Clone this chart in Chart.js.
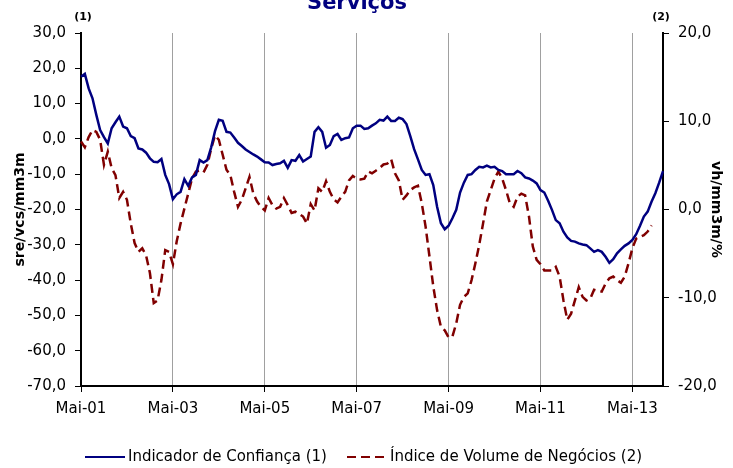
<!DOCTYPE html>
<html>
<head>
<meta charset="utf-8">
<script src="https://cdn.jsdelivr.net/npm/chart.js@4.4.1/dist/chart.umd.min.js"></script>
<style>
  html, body { margin: 0; padding: 0; background: #fff; }
  #wrap { width: 733px; height: 468px; }
</style>
</head>
<body>
<div id="wrap"><canvas id="chart" width="733" height="468"></canvas></div>
<script>
// monthly series, Mai-01 onwards
const monthNames = ["Jan", "Fev", "Mar", "Abr", "Mai", "Jun", "Jul", "Ago", "Set", "Out", "Nov", "Dez"];
const startYear = 2001;
const startMonth = 4; // Mai
const monthCount = 153;

// Indicador de Confiança (1) - left axis
const indicadorConfianca = [
    17.6, 18.4, 14.3, 11.5, 6.8, 2.5, 0.5, -1.3, 3.0, 4.7,
    6.3, 3.5, 3.0, 0.8, 0.2, -2.7, -3.0, -3.9, -5.5, -6.5,
    -6.6, -5.7, -10.2, -12.8, -17.1, -15.7, -15.0, -11.4, -13.3, -10.9,
    -10.2, -6.0, -6.7, -6.0, -2.4, 2.2, 5.4, 5.1, 2.0, 1.8,
    0.4, -1.1, -2.0, -3.0, -3.7, -4.4, -5.0, -5.8, -6.6, -6.7,
    -7.4, -7.1, -6.9, -6.2, -8.2, -6.0, -6.2, -4.6, -6.4, -5.7,
    -5.0, 2.0, 3.3, 2.0, -2.5, -1.7, 0.8, 1.4, -0.3, 0.2,
    0.4, 3.0, 3.75, 3.75, 2.8, 3.0, 3.75, 4.4, 5.4, 5.2,
    6.3, 5.1, 5.1, 6.0, 5.6, 4.2, 0.8, -2.9, -5.8, -8.8,
    -10.2, -10.0, -13.1, -19.2, -23.9, -25.6, -24.6, -22.5, -20.1, -15.2,
    -12.4, -10.2, -10.0, -8.8, -7.9, -8.1, -7.6, -8.1, -7.9, -8.8,
    -9.1, -10.0, -10.0, -10.0, -9.1, -9.7, -10.9, -11.2, -11.8, -12.6,
    -14.5, -15.2, -17.5, -20.1, -23.0, -23.9, -26.3, -27.9, -28.9, -29.1,
    -29.6, -29.9, -30.1, -31.0, -32.0, -31.5, -32.0, -33.4, -35.1, -34.1,
    -32.4, -31.3, -30.3, -29.6, -28.6, -27.0, -24.6, -22.0, -20.6, -17.8,
    -15.4, -12.4, -9.1
];

// Índice de Volume de Negócios (2) - right axis
const indiceVolumeNegocios = [
    7.7, 7.05, 8.2, 9.0, 8.8, 7.9, 5.05, 6.55, 4.7, 3.9,
    1.3, 2.0, 1.1, -1.6, -3.8, -4.8, -4.4, -5.2, -7.2, -10.6,
    -10.3, -8.0, -4.6, -4.8, -6.2, -3.6, -1.6, 0.1, 1.8, 3.5,
    4.3, 4.4, 4.2, 5.05, 6.9, 8.4, 7.9, 6.2, 4.5, 3.9,
    2.0, 0.3, 1.1, 2.4, 3.7, 1.8, 0.9, 0.3, -0.1, 1.3,
    0.5, 0.1, 0.3, 1.3, 0.5, -0.4, -0.25, -0.5, -0.8, -1.6,
    0.6, -0.1, 2.4, 2.0, 3.2, 2.0, 1.15, 0.8, 1.45, 2.0,
    3.3, 3.8, 3.5, 3.4, 3.5, 4.3, 4.1, 4.4, 4.7, 5.1,
    5.2, 5.7, 4.1, 3.3, 1.1, 1.6, 2.2, 2.5, 2.7, 0.7,
    -1.95, -5.3, -8.7, -11.4, -13.3, -13.7, -14.5, -14.4, -12.9, -10.8,
    -9.9, -9.5, -8.0, -6.1, -4.0, -1.6, 0.9, 2.2, 3.5, 4.3,
    3.5, 2.2, 0.7, 0.3, 1.45, 1.8, 1.6, -0.8, -4.2, -5.7,
    -6.2, -6.9, -6.9, -6.9, -6.5, -7.6, -10.3, -12.5, -11.8, -10.3,
    -8.8, -9.9, -10.3, -10.1, -9.1, -9.2, -9.3, -8.4, -7.8, -7.6,
    -8.0, -8.3, -7.6, -6.1, -4.4, -3.3, -3.1, -2.9, -2.5, -1.8
];

const labelEvery = 24;

const labels = [];
for (let i = 0; i < monthCount; i++) {
    const m = (startMonth + i) % 12;
    const y = startYear + Math.floor((startMonth + i) / 12);
    labels.push(monthNames[m] + "-" + String(y).slice(2));
}

const fontFamily = "'DejaVu Sans', Verdana, sans-serif";
const fmt = (v) => v.toFixed(1).replace(".", ",");

// title, (1)/(2) marks and legend drawn on top
const extras = {
    id: "extras",
    afterDraw(chart) {
        const ctx = chart.ctx;
        ctx.save();
        ctx.fillStyle = "#000080";
        ctx.font = "bold 21px " + fontFamily;
        ctx.textAlign = "center";
        ctx.textBaseline = "alphabetic";
        ctx.fillText("Serviços", 357, 9);

        ctx.fillStyle = "#000";
        ctx.font = "bold 11px " + fontFamily;
        ctx.textBaseline = "middle";
        ctx.fillText("(1)", 83, 17);
        ctx.fillText("(2)", 661, 17);

        // legend
        const items = [
            { x: 85, ds: chart.data.datasets[0] },
            { x: 347, ds: chart.data.datasets[1] }
        ];
        ctx.font = "15px " + fontFamily;
        ctx.textAlign = "left";
        items.forEach((it) => {
            ctx.beginPath();
            ctx.strokeStyle = it.ds.borderColor;
            ctx.lineWidth = 2;
            ctx.setLineDash(it.ds.borderDash || []);
            ctx.moveTo(it.x, 457);
            ctx.lineTo(it.x + 40, 457);
            ctx.stroke();
            ctx.setLineDash([]);
            ctx.fillStyle = "#000";
            ctx.fillText(it.ds.label, it.x + 43, 457);
        });
        ctx.restore();
    }
};

new Chart(document.getElementById("chart"), {
    type: "line",
    data: {
        labels: labels,
        datasets: [
            {
                label: "Indicador de Confiança (1)",
                data: indicadorConfianca,
                borderColor: "#000080",
                borderWidth: 2.5,
                pointRadius: 0,
                tension: 0,
                yAxisID: "y"
            },
            {
                label: "Índice de Volume de Negócios (2)",
                data: indiceVolumeNegocios,
                borderColor: "#800000",
                borderWidth: 2.5,
                borderDash: [9, 5],
                pointRadius: 0,
                tension: 0,
                yAxisID: "y2"
            }
        ]
    },
    options: {
        responsive: false,
        animation: false,
        layout: {
            padding: { top: 33, left: 0, right: 0, bottom: 0 },
        },
        plugins: {
            legend: { display: false },
            tooltip: { enabled: false },
        },
        scales: {
            x: {
                type: "category",
                offset: false,
                afterFit: (scale) => { scale.height = 82; },
                border: { display: true, color: "#000", width: 2 },
                grid: {
                    drawOnChartArea: true,
                    drawTicks: true,
                    tickLength: 6,
                    color: (c) => (c.index % labelEvery === 0 && c.index > 0 ? "#a0a0a0" : "rgba(0,0,0,0)"),
                    tickColor: (c) => (c.index % labelEvery === 0 ? "#000" : "rgba(0,0,0,0)"),
                },
                ticks: {
                    autoSkip: false,
                    maxRotation: 0,
                    padding: 8,
                    color: "#000",
                    font: { family: fontFamily, size: 15 },
                    callback: (v, i) => (i % labelEvery === 0 ? labels[i] : ""),
                },
            },
            y: {
                position: "left",
                min: -70,
                max: 30,
                afterFit: (scale) => { scale.width = 81; },
                border: { display: true, color: "#000", width: 2 },
                grid: { drawOnChartArea: false, tickLength: 6, tickColor: "#000" },
                ticks: {
                    stepSize: 10,
                    padding: 9,
                    color: "#000",
                    font: { family: fontFamily, size: 15 },
                    callback: (v) => fmt(v),
                },
                title: {
                    display: true,
                    text: "sre/vcs/mm3m",
                    color: "#000",
                    font: { family: fontFamily, size: 14, weight: "bold" },
                    padding: { top: 12, bottom: 0 },
                },
            },
            y2: {
                position: "right",
                min: -20,
                max: 20,
                afterFit: (scale) => { scale.width = 70; },
                border: { display: true, color: "#000", width: 2 },
                grid: { drawOnChartArea: false, tickLength: 6, tickColor: "#000" },
                ticks: {
                    stepSize: 10,
                    padding: 9,
                    color: "#000",
                    font: { family: fontFamily, size: 15 },
                    callback: (v) => fmt(v),
                },
                title: {
                    display: true,
                    text: "vh/mm3m/%",
                    color: "#000",
                    font: { family: fontFamily, size: 14, weight: "bold" },
                    padding: { top: 9, bottom: 0 },
                },
            },
        },
    },
    plugins: [extras],
});
</script>
</body>
</html>
